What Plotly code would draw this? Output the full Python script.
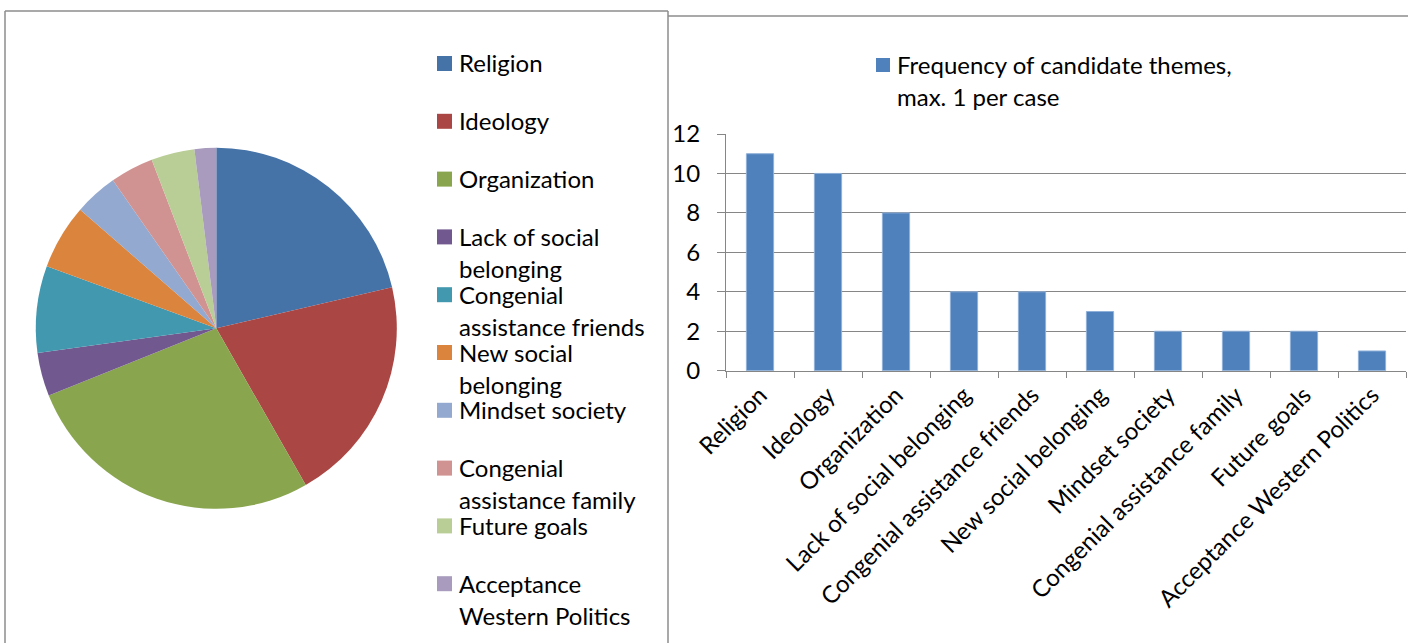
import plotly.graph_objects as go

# ---------------- data ----------------
categories = [
    "Religion", "Ideology", "Organization", "Lack of social belonging",
    "Congenial assistance friends", "New social belonging", "Mindset society",
    "Congenial assistance family", "Future goals", "Acceptance Western Politics",
]
pie_values = [11, 10.5, 14, 2, 4, 3, 2, 2, 2, 1]
bar_values = [11, 10, 8, 4, 4, 3, 2, 2, 2, 1]
pie_legend_lines = [
    ["Religion"], ["Ideology"], ["Organization"], ["Lack of social", "belonging"],
    ["Congenial", "assistance friends"], ["New social", "belonging"], ["Mindset society"],
    ["Congenial", "assistance family"], ["Future goals"], ["Acceptance", "Western Politics"],
]
bar_series_lines = ["Frequency of candidate themes,", "max. 1 per case"]
y_tick_values = [0, 2, 4, 6, 8, 10, 12]

# ---------------- styles ----------------
pie_colors = ["#4572A7", "#AA4643", "#89A54E", "#71588F", "#4198AF",
              "#DB843D", "#93A9CF", "#D19392", "#B9CD96", "#A99BBD"]
bar_color = "#4F81BD"
grey = "#868686"
FONT = "Lato"
FS = 24

W, H = 1408, 643


def px(x):
    return x / W


def py(y):
    return 1 - y / H


fig = go.Figure()

fig.add_trace(go.Pie(
    labels=categories, values=pie_values, sort=False, direction="clockwise",
    rotation=0, textinfo="none", showlegend=False,
    marker=dict(colors=pie_colors, line=dict(width=0)),
    domain=dict(x=[px(35.8), px(396.8)], y=[py(509), py(147.6)]),
))

fig.add_trace(go.Bar(
    x=categories, y=bar_values, marker=dict(color=bar_color, line=dict(color="#8FB0D8", width=1)),
    showlegend=False, xaxis="x", yaxis="y",
))

shapes = []
annotations = []

# frame lines
frame = dict(type="line", xref="paper", yref="paper", line=dict(color="#8c8c8c", width=1.5))
shapes.append(dict(frame, x0=px(5), x1=px(668), y0=py(11), y1=py(11)))
shapes.append(dict(frame, x0=px(5), x1=px(5), y0=py(11), y1=py(650)))
shapes.append(dict(frame, x0=px(668), x1=px(668), y0=py(11), y1=py(650)))
shapes.append(dict(frame, x0=px(668), x1=px(1410), y0=py(16), y1=py(16)))

# pie legend (manual)
for i, lines in enumerate(pie_legend_lines):
    base = 72 + 57.8 * i
    c = base - 8.5
    shapes.append(dict(type="rect", xref="paper", yref="paper",
                       x0=px(437), x1=px(452), y0=py(c - 7.5), y1=py(c + 7.5),
                       fillcolor=pie_colors[i], line=dict(width=0)))
    for j, t in enumerate(lines):
        annotations.append(dict(
            text=t, xref="paper", yref="paper", x=px(457), y=py(base + 32 * j - 9),
            xanchor="left", yanchor="middle", showarrow=False,
            font=dict(family=FONT, size=FS, color="black")))

# bar legend (manual)
shapes.append(dict(type="rect", xref="paper", yref="paper",
                   x0=px(876), x1=px(890), y0=py(58), y1=py(72),
                   fillcolor=bar_color, line=dict(width=0)))
for j, t in enumerate(bar_series_lines):
    annotations.append(dict(
        text=t, xref="paper", yref="paper", x=px(895), y=py(74 + 32 * j - 9),
        xanchor="left", yanchor="middle", showarrow=False,
        font=dict(family=FONT, size=FS, color="black")))

fig.update_layout(
    width=W, height=H, margin=dict(l=0, r=0, t=0, b=0, autoexpand=False),
    paper_bgcolor="white", plot_bgcolor="white",
    font=dict(family=FONT, size=FS, color="black"),
    bargap=0.6,
    shapes=shapes, annotations=annotations,
    xaxis=dict(
        domain=[px(726), px(1406)], showline=True, linecolor=grey, linewidth=1,
        ticks="outside", tickson="boundaries", ticklen=6, tickcolor=grey,
        tickangle=-45, showgrid=False, automargin=False,
        tickfont=dict(family=FONT, size=FS, color="black"),
    ),
    yaxis=dict(
        domain=[py(370.7), py(134)], range=[0, 12], tickvals=y_tick_values,
        showgrid=True, gridcolor=grey, gridwidth=1, showline=True, linecolor=grey,
        ticks="outside", ticklen=8, tickcolor=grey, zeroline=False, automargin=False,
        ticklabelstandoff=12, tickfont=dict(family=FONT, size=FS, color="black"),
    ),
)

fig.write_html("out.html")
